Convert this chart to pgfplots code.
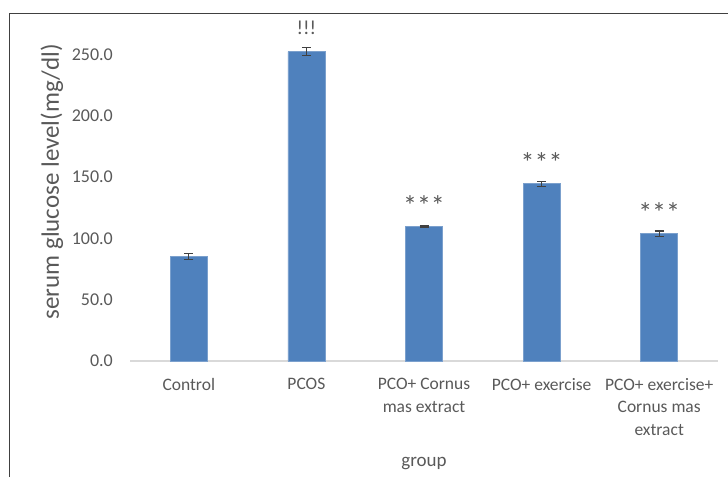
\documentclass[border=0pt]{standalone}
\usepackage{pgfplots}
\pgfplotsset{compat=1.18}
\usepackage{fontspec}
\setmainfont{Carlito}
\definecolor{barblue}{HTML}{4F81BD}
\definecolor{txtgray}{HTML}{595959}
\definecolor{axgray}{HTML}{D9D9D9}
\definecolor{framegray}{HTML}{404040}

% mean serum glucose and its error per group
\pgfplotstableread{
x  y      err
0  85.2   2.4
1  252.4  3.5
2  109.4  0.7
3  144.5  2.0
4  103.7  2.3
}\glucose

\begin{document}
\begin{tikzpicture}
\useasboundingbox (0,0) rectangle (728pt,477pt);
\draw[framegray, line width=1.3pt] (9.5pt,0) -- (9.5pt,463.7pt) -- (728pt,463.7pt);
\begin{axis}[
  at={(130pt,116pt)}, anchor=south west,
  scale only axis, width=588pt, height=306.5pt,
  xmin=-0.5, xmax=4.5, ymin=0, ymax=250,
  clip=false,
  axis x line*=bottom, axis y line*=left,
  x axis line style={draw=axgray, line width=1.3pt, -},
  y axis line style={draw=none},
  major tick length=0pt, tick style={draw=none},
  xtick=data,
  xticklabels={Control, PCOS, {PCO+ Cornus\\mas extract}, PCO+ exercise, {PCO+ exercise+\\Cornus mas\\extract}},
  x tick label style={font=\fontsize{17.5}{22.5}\selectfont, text=txtgray, align=center, inner sep=0pt, anchor=north, yshift=-17pt},
  ytick={0,50,100,150,200,250},
  y tick label style={font=\fontsize{18}{20}\selectfont, text=txtgray, inner sep=0pt, anchor=east, xshift=-17pt},
  /pgf/number format/assume math mode=true,
  yticklabel={\pgfmathprintnumber[fixed, fixed zerofill, precision=1]{\tick}},
  ylabel={serum glucose level(mg/dl)},
  ylabel style={at={(axis description cs:-0.133,0.585)}, anchor=center, font=\fontsize{25}{28}\selectfont, text=txtgray},
  xlabel={group},
  xlabel style={at={(axis description cs:0.5,-0.333)}, anchor=center, font=\fontsize{19}{22}\selectfont, text=txtgray},
]
\addplot[ybar, bar width=37pt, fill=barblue, draw=barblue!75!white, line width=0.8pt,
  error bars/.cd, y dir=both, y explicit,
  error bar style={draw=framegray, line width=1.2pt},
  error mark options={draw=framegray, line width=1.2pt, mark size=4.5pt, rotate=90}]
  table[x=x, y=y, y error=err] {\glucose};
\node[font=\fontsize{20}{22}\selectfont, text=txtgray] at (axis cs:1,272) {!!!};
\node[font=\fontsize{28}{30}\selectfont, text=txtgray, inner sep=0pt] at (axis cs:2,126.5) {***};
\node[font=\fontsize{28}{30}\selectfont, text=txtgray, inner sep=0pt] at (axis cs:3,161.5) {***};
\node[font=\fontsize{28}{30}\selectfont, text=txtgray, inner sep=0pt] at (axis cs:4,121) {***};
\end{axis}
\end{tikzpicture}
\end{document}
